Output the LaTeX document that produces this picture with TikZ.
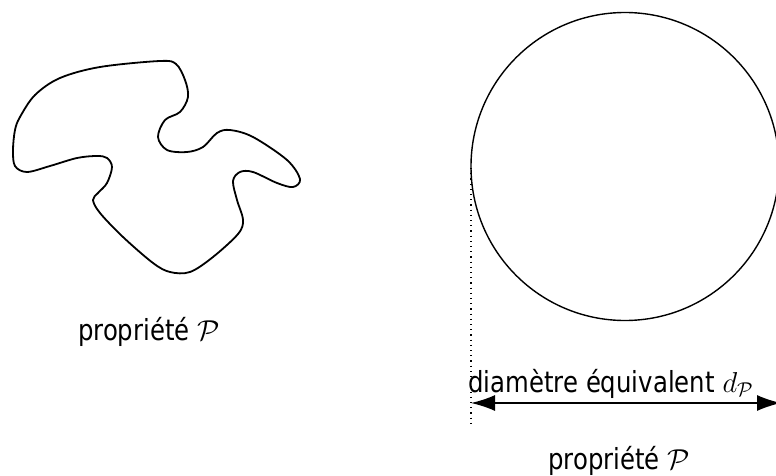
\documentclass[tikz,border=0pt]{standalone}
\usepackage{fontspec}
\setmainfont[FakeStretch=0.84]{DejaVu Sans}
\usetikzlibrary{arrows.meta}
\begin{document}
\begin{tikzpicture}[x=0.5pt,y=-0.5pt,
  lbl/.style={inner sep=0pt, font=\fontsize{14.5}{17}\selectfont},
  shapeline/.style={line width=0.9pt},
  dimarrow/.style={line width=0.7pt, {Latex[length=12pt,width=8pt]}-{Latex[length=12pt,width=8pt]}}]
\useasboundingbox (0,0) rectangle (776,476);
\begin{scope}
\clip (0,0) rectangle (776,476);
% blob
\draw[shapeline] plot[smooth cycle, tension=0.55] coordinates {
 (20,117) (35,95) (60,78) (100,67) (160,61) (176,64) (185,80) (188,97) (180,112)
 (165,120) (158,137) (167,150) (187,152) (203,147) (217,133) (230,130)
 (253,137) (287,160) (300,179) (293,187) (277,183) (253,172) (240,172)
 (233,181) (237,200) (243,220) (238,234) (213,257) (190,272) (170,272)
 (153,263) (123,237) (100,213) (93,200) (98,193) (107,183) (112,167)
 (107,158) (97,156) (77,158) (50,166) (27,172) (15,166) (13,150) (15,130)};
% circle
\node[draw, circle, line width=0.7pt, minimum size=308pt*0.5, inner sep=0pt] (circ) at (625,166.5) {};
\coordinate (dtop) at (471,168);
\coordinate (dbot) at (471,425);
\draw[dotted, line width=0.6pt] (dtop) -- (dbot);
\coordinate (aL) at (471,403);
\coordinate (aR) at (781,403);
\draw[dimarrow] (aL) -- (aR);
\end{scope}
\node[lbl, anchor=base west] (dlabel) at (468,392) {diamètre équivalent $d_{\mathcal{P}}$};
\node[lbl, anchor=base] (plabelL) at (149,340) {propriété $\mathcal{P}$};
\node[lbl, anchor=base] (plabelR) at (619,469) {propriété $\mathcal{P}$};
\end{tikzpicture}
\end{document}
